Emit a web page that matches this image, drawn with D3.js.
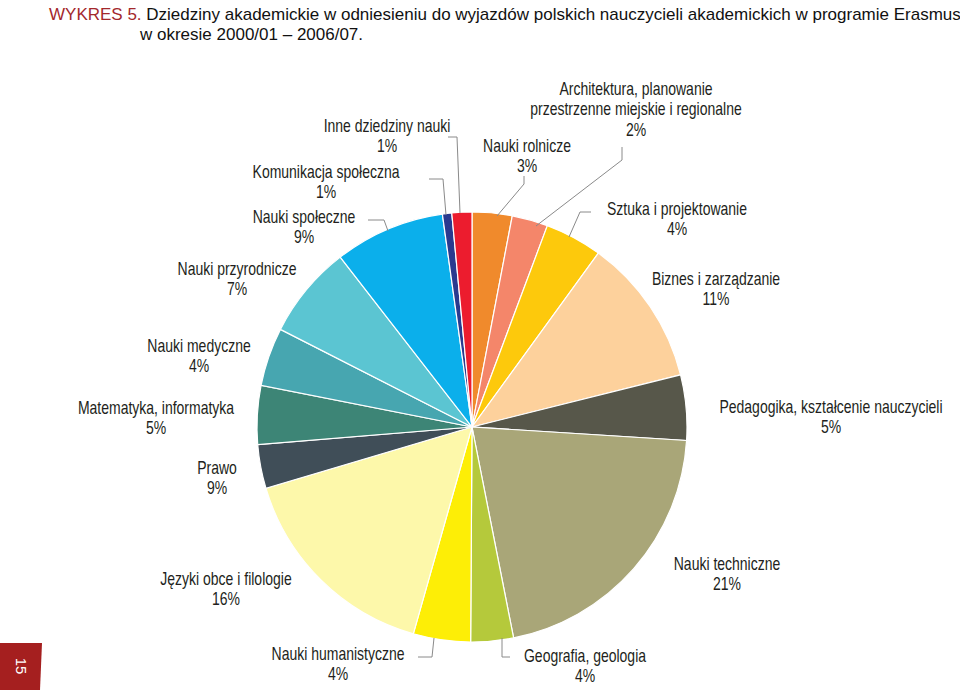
<!DOCTYPE html>
<html><head><meta charset="utf-8">
<script src="https://cdn.jsdelivr.net/npm/d3@7"></script>
<style>
body{margin:0;background:#fff;}
text{font-family:"Liberation Sans",Arial,sans-serif;}
</style></head>
<body><svg id="chart" width="960" height="690"></svg>
<script>
// slices clockwise from 12 o'clock
var categories = ["Nauki rolnicze","Architektura, planowanie|przestrzenne miejskie i regionalne","Sztuka i projektowanie","Biznes i zarządzanie","Pedagogika, kształcenie nauczycieli","Nauki techniczne","Geografia, geologia","Nauki humanistyczne","Języki obce i filologie","Prawo","Matematyka, informatyka","Nauki medyczne","Nauki przyrodnicze","Nauki społeczne","Komunikacja społeczna","Inne dziedziny nauki"];
var shares = [3, 2.7, 4.3, 11.1, 4.9, 20.9, 3.2, 4.3, 16, 3.3, 4.4, 4.4, 7, 8.3, 0.7, 1.5];
var pctLabels = ["3%","2%","4%","11%","5%","21%","4%","4%","16%","9%","5%","4%","7%","9%","1%","1%"];
var colors = ["#f08a2c","#f4866a","#fdc90c","#fdd19c","#57574a","#a9a678","#b5c93b","#fdee06","#fdf8aa","#404e58","#3d8576","#47a6b0","#5bc5d2","#0bafeb","#2a3a8f","#ec1c2e"];

// label layout: text centre x, first line y, leader polyline
var labelPos = [
  {x:527,y:152,line:[[524,176],[524,184],[497,216]]},
  {x:636,y:95,line:[[622,147],[622,160],[536,226]]},
  {x:677,y:215,line:[[591,212],[580,212],[569,237]]},
  {x:716,y:285,line:null},
  {x:831,y:413,line:null},
  {x:727,y:570,line:null},
  {x:585,y:662,line:[[510,657],[502,657],[502,638]]},
  {x:338,y:660,line:[[418,657],[432,657],[434,638]]},
  {x:226,y:585,line:null},
  {x:217,y:474,line:null},
  {x:156,y:414,line:null},
  {x:199,y:352,line:null},
  {x:237,y:275,line:null},
  {x:304,y:223,line:[[368,220],[384,220],[388,231]]},
  {x:326,y:178,line:[[429,179],[443,179],[446,215]]},
  {x:387,y:132,line:[[448,137],[457,137],[460,213]]}
];

var svg = d3.select("#chart");
var cx = 472, cy = 427, r = 215;

// title
var title = svg.append("text").attr("x",49).attr("y",20).style("font-size","17px");
title.append("tspan").attr("fill","#a3282c").text("WYKRES 5. ");
title.append("tspan").attr("fill","#111").text("Dziedziny akademickie w odniesieniu do wyjazdów polskich nauczycieli akademickich w programie Erasmus");
svg.append("text").attr("x",140).attr("y",40).style("font-size","17px").attr("fill","#111").text("w okresie 2000/01 – 2006/07.");

// page tab
svg.append("path").attr("d","M0,643 L42,643 L40,690 L0,690 Z").attr("fill","#a51f1f");
svg.append("text").attr("transform","translate(16,666) rotate(90)").attr("text-anchor","middle")
  .style("font-size","15px").attr("fill","#fff").text("15");

var pie = d3.pie().sort(null).value(function(d){return d;});
var arc = d3.arc().innerRadius(0).outerRadius(r);
var g = svg.append("g").attr("transform","translate("+cx+","+cy+")");
g.selectAll("path").data(pie(shares)).enter().append("path")
  .attr("d",arc).attr("fill",function(d,i){return colors[i];})
  .attr("stroke","#fff").attr("stroke-width",1.2);

// leader lines
var line = d3.line();
labelPos.forEach(function(p){
  if(p.line) svg.append("path").attr("d",line(p.line)).attr("fill","none").attr("stroke","#8a8a8a").attr("stroke-width",1);
});

// labels (condensed by horizontal scaling)
categories.forEach(function(c,i){
  var p = labelPos[i];
  var lines = c.split("|").concat([pctLabels[i]]);
  var t = svg.append("text").attr("transform","translate("+p.x+","+p.y+") scale(0.8,1)")
    .attr("text-anchor","middle").attr("fill","#231f20").style("font-size","17.5px");
  lines.forEach(function(l,k){
    t.append("tspan").attr("x",0).attr("y",k*20.5).text(l);
  });
});
</script></body></html>
